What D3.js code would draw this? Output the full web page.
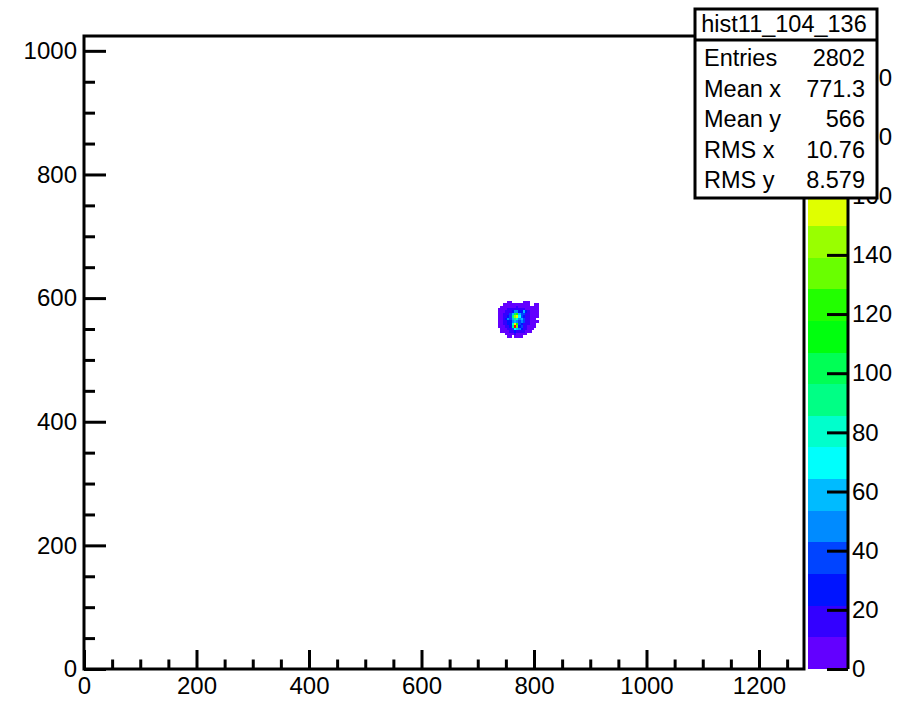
<!DOCTYPE html>
<html>
<head>
<meta charset="utf-8">
<script src="https://cdn.jsdelivr.net/npm/d3@7"></script>
<style>
  body { margin: 0; background: #fff; }
  svg { display: block; }
  text { font-family: "Liberation Sans", Arial, Helvetica, sans-serif; fill: #000; }
</style>
</head>
<body>
<svg id="chart" width="918" height="701"></svg>
<script>
// ---- histogram definition -------------------------------------------------
const histName = "hist11_104_136";
const xRange = [0, 1280];
const yRange = [0, 1024];
const xMajorTicks = [0, 200, 400, 600, 800, 1000, 1200];
const yMajorTicks = [0, 200, 400, 600, 800, 1000];
const minorStep = 50;
const zTicks = [0, 20, 40, 60, 80, 100, 120, 140, 160, 180, 200];
const nContours = 20;

// bin contents (4x4 unit bins), rows listed from the top edge downwards
const binSize = 4;
const firstBinX = 736;   // low x edge of the first column
const firstBinYTop = 596; // upper y edge of the first row
const counts = [
  [0,0,0,0,3,4,0,0,0,0,0,2,5,3,0,0,0,0],
  [0,0,2,4,6,7,5,3,4,6,5,8,6,4,0,0,3,2],
  [0,3,5,7,9,8,10,9,11,8,10,9,7,6,5,6,4,3],
  [2,5,8,9,12,14,13,17,15,14,12,13,10,9,8,6,5,3],
  [4,6,9,13,16,20,28,45,52,31,24,58,22,13,9,7,6,4],
  [5,7,11,15,19,33,62,104,118,56,35,41,19,14,10,8,6,3],
  [6,9,12,18,25,40,88,146,158,72,38,30,17,12,9,7,5,2],
  [5,8,13,24,47,36,55,96,84,48,63,42,21,15,10,6,4,0],
  [4,9,14,20,31,29,44,58,51,39,47,33,18,13,9,7,5,2],
  [3,7,12,17,22,26,78,165,128,34,28,21,16,11,8,5,3,0],
  [2,6,9,13,18,24,92,214,137,31,37,19,14,10,7,4,2,0],
  [0,4,7,10,14,19,36,67,54,44,29,16,12,8,5,3,0,0],
  [0,2,5,7,10,13,16,22,20,17,14,11,8,6,4,0,0,0],
  [0,0,0,4,6,8,9,11,10,8,7,5,4,0,0,0,0,0],
  [0,0,0,0,3,5,0,4,6,3,4,0,0,0,0,0,0,0]
];

// statistics box
const statLabels = ["Entries", "Mean x", "Mean y", "RMS x", "RMS y"];
const statValues = ["2802", "771.3", "566", "10.76", "8.579"];

// ---- layout ----------------------------------------------------------------
const frame = { left: 84, right: 804, top: 36, bottom: 669 };
const palX = { left: 808, right: 848 };
const svg = d3.select("#chart");

const x = d3.scaleLinear().domain(xRange).range([frame.left, frame.right]);
const y = d3.scaleLinear().domain(yRange).range([frame.bottom, frame.top]);

const zMax = d3.max(counts.flat());
const z = d3.scaleLinear().domain([0, zMax]).range([frame.bottom, frame.top]);

// rainbow palette: 50 hues from violet to red, sampled for each contour band
function bandColor(k) {
  const idx = Math.floor((k + 0.99) * 50 / nContours);
  const hue = 280 - (idx + 1) * (280 / 50);
  return d3.hsl(hue, 1, 0.5).formatHex();
}
function valueBand(v) {
  return Math.min(nContours - 1, Math.floor(v / zMax * nContours));
}

// ---- bins ---------------------------------------------------------------------
const cells = [];
counts.forEach((row, r) => {
  row.forEach((v, c) => {
    if (v > 0) {
      const x0 = firstBinX + c * binSize;
      const yTop = firstBinYTop - r * binSize;
      cells.push({ x0, x1: x0 + binSize, y0: yTop - binSize, y1: yTop, v });
    }
  });
});

svg.append("g")
  .selectAll("rect")
  .data(cells)
  .join("rect")
  .attr("x", d => x(d.x0))
  .attr("y", d => y(d.y1))
  .attr("width", d => x(d.x1) - x(d.x0))
  .attr("height", d => y(d.y0) - y(d.y1))
  .attr("fill", d => bandColor(valueBand(d.v)))
  .attr("shape-rendering", "crispEdges");

// ---- axes ---------------------------------------------------------------------
const fontSize = 24;
const minorX = d3.range(xRange[0], xRange[1] + 1, minorStep).filter(v => !xMajorTicks.includes(v));
const minorY = d3.range(yRange[0], yRange[1] + 1, minorStep).filter(v => !yMajorTicks.includes(v));

function styleAxis(g) {
  g.select(".domain").remove();
  g.selectAll(".tick line").attr("stroke", "#000").attr("stroke-width", 3);
  g.selectAll("text").style("font-size", fontSize + "px").attr("fill", "#000");
}

svg.append("g")
  .attr("transform", `translate(0,${frame.bottom})`)
  .call(d3.axisBottom(x).tickValues(minorX).tickSize(-9.5).tickFormat(""))
  .call(styleAxis);
svg.append("g")
  .attr("transform", `translate(0,${frame.bottom})`)
  .call(d3.axisBottom(x).tickValues(xMajorTicks).tickSize(-19).tickPadding(8).tickFormat(d3.format("d")))
  .call(styleAxis);

svg.append("g")
  .attr("transform", `translate(${frame.left},0)`)
  .call(d3.axisLeft(y).tickValues(minorY).tickSize(-11).tickFormat(""))
  .call(styleAxis);
svg.append("g")
  .attr("transform", `translate(${frame.left},0)`)
  .call(d3.axisLeft(y).tickValues(yMajorTicks).tickSize(-22).tickPadding(7).tickFormat(d3.format("d")))
  .call(styleAxis);

// frame
svg.append("rect")
  .attr("x", frame.left).attr("y", frame.top)
  .attr("width", frame.right - frame.left).attr("height", frame.bottom - frame.top)
  .attr("fill", "none").attr("stroke", "#000").attr("stroke-width", 3);

// ---- colour palette axis -----------------------------------------------------
const bands = d3.range(nContours).map(k => ({ k, lo: k * zMax / nContours, hi: (k + 1) * zMax / nContours }));
svg.append("g")
  .selectAll("rect")
  .data(bands)
  .join("rect")
  .attr("x", palX.left)
  .attr("y", d => z(d.hi))
  .attr("width", palX.right - palX.left)
  .attr("height", d => z(d.lo) - z(d.hi))
  .attr("fill", d => bandColor(d.k))
  .attr("shape-rendering", "crispEdges");

svg.append("g")
  .attr("transform", `translate(${palX.right},0)`)
  .call(d3.axisRight(z).tickValues(zTicks).tickSize(-21).tickPadding(4).tickFormat(d3.format("d")))
  .call(styleAxis);
svg.append("line")
  .attr("x1", palX.right).attr("x2", palX.right)
  .attr("y1", frame.top).attr("y2", frame.bottom)
  .attr("stroke", "#000").attr("stroke-width", 3);

// ---- statistics box ---------------------------------------------------------
const stat = { left: 695, right: 877, top: 9, bottom: 198, sep: 40 };
const statG = svg.append("g");
statG.append("rect")
  .attr("x", stat.left).attr("y", stat.top)
  .attr("width", stat.right - stat.left).attr("height", stat.bottom - stat.top)
  .attr("fill", "#fff").attr("stroke", "#000").attr("stroke-width", 3);
statG.append("line")
  .attr("x1", stat.left).attr("x2", stat.right)
  .attr("y1", stat.sep).attr("y2", stat.sep)
  .attr("stroke", "#000").attr("stroke-width", 3);
statG.append("text")
  .attr("x", (stat.left + stat.right) / 2 - 2).attr("y", 32)
  .attr("text-anchor", "middle")
  .style("font-size", "23.5px")
  .text(histName);

const rowY = d3.scaleLinear().domain([0, statLabels.length - 1]).range([66, 188]);
statLabels.forEach((label, i) => {
  statG.append("text")
    .attr("x", 704).attr("y", rowY(i))
    .style("font-size", "23.5px")
    .text(label);
  statG.append("text")
    .attr("x", 865).attr("y", rowY(i))
    .attr("text-anchor", "end")
    .style("font-size", "23.5px")
    .text(statValues[i]);
});
</script>
</body>
</html>
